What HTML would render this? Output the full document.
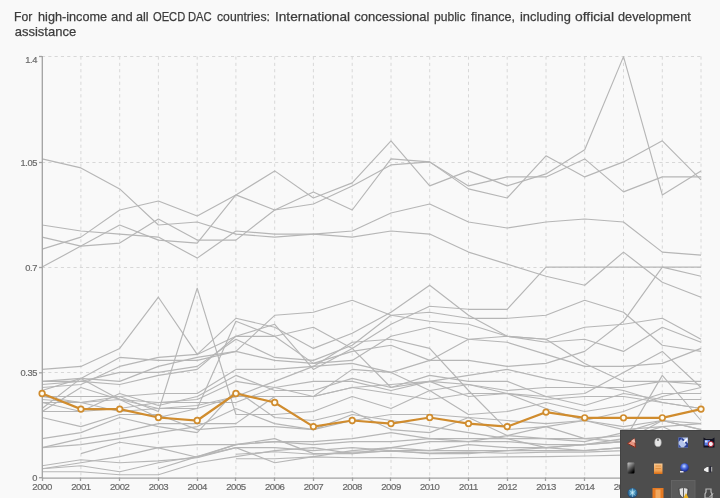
<!DOCTYPE html>
<html><head><meta charset="utf-8"><style>
html,body{margin:0;padding:0;width:720px;height:498px;overflow:hidden;background:#f9f9f9;}
.t{position:absolute;left:0;top:10px;width:720px;height:30px;font:13px/14.6px "Liberation Sans",Arial,sans-serif;color:#3c3c3c;-webkit-text-stroke:0.25px #3c3c3c;}
.t span{position:absolute;top:0;white-space:nowrap;transform-origin:0 0;}
svg{position:absolute;left:0;top:0;}
.tray{position:absolute;left:620px;top:430px;}
</style></head><body>
<div class="t"><span style="left:13.8px;transform:scaleX(0.937)">For</span> <span style="left:37.5px;transform:scaleX(0.976)">high-income</span> <span style="left:110.8px;transform:scaleX(0.995)">and</span> <span style="left:135.8px;transform:scaleX(0.975)">all</span> <span style="left:152.5px;transform:scaleX(0.857)">OECD</span> <span style="left:188.3px;transform:scaleX(0.865)">DAC</span> <span style="left:216.7px;transform:scaleX(0.938)">countries:</span> <span style="left:274.8px;transform:scaleX(1.049)">International</span> <span style="left:354.2px;transform:scaleX(1.000)">concessional</span> <span style="left:434.2px;transform:scaleX(0.929)">public</span> <span style="left:470.8px;transform:scaleX(0.964)">finance,</span> <span style="left:519.5px;transform:scaleX(0.990)">including</span> <span style="left:575.0px;transform:scaleX(1.064)">official</span> <span style="left:617.5px;transform:scaleX(0.977)">development</span> <span style="left:14.7px;top:14.6px">assistance</span></div>
<svg width="720" height="498" viewBox="0 0 720 498">
<g stroke="#d8d8d8" stroke-width="1" stroke-dasharray="3.15,3.15" fill="none">
<line x1="80.9" y1="56.5" x2="80.9" y2="477.5"/>
<line x1="119.7" y1="56.5" x2="119.7" y2="477.5"/>
<line x1="158.4" y1="56.5" x2="158.4" y2="477.5"/>
<line x1="197.2" y1="56.5" x2="197.2" y2="477.5"/>
<line x1="235.9" y1="56.5" x2="235.9" y2="477.5"/>
<line x1="274.7" y1="56.5" x2="274.7" y2="477.5"/>
<line x1="313.4" y1="56.5" x2="313.4" y2="477.5"/>
<line x1="352.2" y1="56.5" x2="352.2" y2="477.5"/>
<line x1="391.0" y1="56.5" x2="391.0" y2="477.5"/>
<line x1="429.7" y1="56.5" x2="429.7" y2="477.5"/>
<line x1="468.5" y1="56.5" x2="468.5" y2="477.5"/>
<line x1="507.2" y1="56.5" x2="507.2" y2="477.5"/>
<line x1="546.0" y1="56.5" x2="546.0" y2="477.5"/>
<line x1="584.7" y1="56.5" x2="584.7" y2="477.5"/>
<line x1="623.5" y1="56.5" x2="623.5" y2="477.5"/>
<line x1="662.3" y1="56.5" x2="662.3" y2="477.5"/>
<line x1="701.0" y1="56.5" x2="701.0" y2="477.5"/>
<line x1="42" y1="372.5" x2="701.5" y2="372.5"/>
<line x1="42" y1="267.5" x2="701.5" y2="267.5"/>
<line x1="42" y1="162.5" x2="701.5" y2="162.5"/>
<line x1="42" y1="56.5" x2="701.5" y2="56.5"/>
</g>
<g stroke="#b6b6b6" stroke-width="1.15" fill="none" stroke-linejoin="round">
<polyline points="42.1,237.1 80.9,246.1 119.7,225.0 158.4,240.1 197.2,243.1 235.9,194.9 274.7,170.9 313.4,198.0 352.2,182.9 391.0,140.8 429.7,185.9 468.5,170.9 507.2,185.9 546.0,173.9 584.7,149.8 623.5,56.6 662.3,194.9 701.0,170.9"/>
<polyline points="42.1,249.1 80.9,237.1 119.7,210.0 158.4,201.0 197.2,216.0 235.9,194.9 274.7,210.0 313.4,191.9 352.2,210.0 391.0,158.9 429.7,161.9 468.5,188.9 507.2,198.0 546.0,155.8 584.7,176.9 623.5,161.9 662.3,140.8 701.0,179.9"/>
<polyline points="42.1,267.1 80.9,246.1 119.7,243.1 158.4,219.0 197.2,240.1 235.9,240.1 274.7,210.0 313.4,204.0 352.2,185.9 391.0,164.9 429.7,161.9 468.5,185.9 507.2,176.9 546.0,176.9 584.7,158.9 623.5,191.9 662.3,176.9 701.0,176.9"/>
<polyline points="42.1,158.9 80.9,167.9 119.7,188.9 158.4,225.0 197.2,222.0 235.9,234.1 274.7,237.1 313.4,234.1 352.2,231.0 391.0,213.0 429.7,204.0 468.5,222.0 507.2,228.0 546.0,222.0 584.7,219.0 623.5,222.0 662.3,252.1 701.0,255.1"/>
<polyline points="42.1,225.0 80.9,231.0 119.7,234.1 158.4,237.1 197.2,258.1 235.9,231.0 274.7,234.1 313.4,234.1 352.2,237.1 391.0,231.0 429.7,234.1 468.5,252.1 507.2,264.1 546.0,276.2 584.7,285.2 623.5,252.1 662.3,282.2 701.0,297.2"/>
<polyline points="42.1,381.4 80.9,381.4 119.7,384.5 158.4,375.4 197.2,369.4 235.9,336.3 274.7,324.3 313.4,369.4 352.2,348.4 391.0,324.3 429.7,306.2 468.5,309.3 507.2,309.3 546.0,267.1 584.7,267.1 623.5,267.1 662.3,267.1 701.0,267.1"/>
<polyline points="42.1,369.4 80.9,366.4 119.7,348.4 158.4,297.2 197.2,354.4 235.9,318.3 274.7,327.3 313.4,348.4 352.2,333.3 391.0,312.3 429.7,285.2 468.5,315.3 507.2,336.3 546.0,342.3 584.7,339.3 623.5,351.4 662.3,327.3 701.0,342.3"/>
<polyline points="42.1,390.5 80.9,378.4 119.7,357.4 158.4,360.4 197.2,360.4 235.9,351.4 274.7,315.3 313.4,312.3 352.2,300.2 391.0,315.3 429.7,321.3 468.5,324.3 507.2,336.3 546.0,339.3 584.7,363.4 623.5,381.4 662.3,381.4 701.0,381.4"/>
<polyline points="42.1,384.5 80.9,381.4 119.7,372.4 158.4,372.4 197.2,366.4 235.9,339.3 274.7,357.4 313.4,360.4 352.2,345.3 391.0,315.3 429.7,312.3 468.5,318.3 507.2,318.3 546.0,315.3 584.7,300.2 623.5,312.3 662.3,345.3 701.0,351.4"/>
<polyline points="42.1,387.5 80.9,384.5 119.7,366.4 158.4,357.4 197.2,354.4 235.9,336.3 274.7,336.3 313.4,363.4 352.2,360.4 391.0,336.3 429.7,327.3 468.5,339.3 507.2,342.3 546.0,354.4 584.7,366.4 623.5,366.4 662.3,363.4 701.0,348.4"/>
<polyline points="42.1,396.5 80.9,396.5 119.7,396.5 158.4,393.5 197.2,393.5 235.9,369.4 274.7,369.4 313.4,366.4 352.2,363.4 391.0,372.4 429.7,360.4 468.5,360.4 507.2,366.4 546.0,363.4 584.7,351.4 623.5,321.3 662.3,267.1 701.0,276.2"/>
<polyline points="42.1,381.4 80.9,378.4 119.7,381.4 158.4,366.4 197.2,357.4 235.9,351.4 274.7,360.4 313.4,363.4 352.2,351.4 391.0,345.3 429.7,360.4 468.5,339.3 507.2,336.3 546.0,339.3 584.7,327.3 623.5,324.3 662.3,318.3 701.0,339.3"/>
<polyline points="42.1,408.5 80.9,378.4 119.7,399.5 158.4,417.5 197.2,408.5 235.9,321.3 274.7,336.3 313.4,327.3 352.2,348.4 391.0,387.5 429.7,381.4 468.5,396.5 507.2,393.5 546.0,396.5 584.7,393.5 623.5,372.4 662.3,351.4 701.0,387.5"/>
<polyline points="42.1,402.5 80.9,411.5 119.7,393.5 158.4,405.5 197.2,396.5 235.9,375.4 274.7,390.5 313.4,390.5 352.2,378.4 391.0,387.5 429.7,375.4 468.5,381.4 507.2,381.4 546.0,396.5 584.7,405.5 623.5,393.5 662.3,399.5 701.0,399.5"/>
<polyline points="42.1,396.5 80.9,402.5 119.7,399.5 158.4,402.5 197.2,402.5 235.9,402.5 274.7,387.5 313.4,381.4 352.2,381.4 391.0,390.5 429.7,381.4 468.5,375.4 507.2,369.4 546.0,378.4 584.7,384.5 623.5,390.5 662.3,402.5 701.0,408.5"/>
<polyline points="42.1,411.5 80.9,387.5 119.7,399.5 158.4,408.5 197.2,405.5 235.9,396.5 274.7,381.4 313.4,366.4 352.2,342.3 391.0,339.3 429.7,348.4 468.5,390.5 507.2,429.6 546.0,426.6 584.7,438.6 623.5,441.6 662.3,375.4 701.0,420.5"/>
<polyline points="42.1,438.6 80.9,432.6 119.7,417.5 158.4,426.6 197.2,432.6 235.9,390.5 274.7,417.5 313.4,420.5 352.2,411.5 391.0,429.6 429.7,432.6 468.5,417.5 507.2,435.6 546.0,426.6 584.7,420.5 623.5,411.5 662.3,396.5 701.0,387.5"/>
<polyline points="42.1,399.5 80.9,402.5 119.7,396.5 158.4,411.5 197.2,288.2 235.9,414.5 274.7,414.5 313.4,411.5 352.2,396.5 391.0,408.5 429.7,390.5 468.5,384.5 507.2,393.5 546.0,408.5 584.7,420.5 623.5,429.6 662.3,426.6 701.0,423.6"/>
<polyline points="42.1,447.6 80.9,444.6 119.7,438.6 158.4,432.6 197.2,426.6 235.9,408.5 274.7,423.6 313.4,429.6 352.2,420.5 391.0,414.5 429.7,414.5 468.5,417.5 507.2,420.5 546.0,423.6 584.7,420.5 623.5,426.6 662.3,420.5 701.0,423.6"/>
<polyline points="42.1,417.5 80.9,426.6 119.7,414.5 158.4,414.5 197.2,429.6 235.9,426.6 274.7,426.6 313.4,429.6 352.2,414.5 391.0,420.5 429.7,426.6 468.5,432.6 507.2,438.6 546.0,447.6 584.7,444.6 623.5,441.6 662.3,420.5 701.0,429.6"/>
<polyline points="42.1,402.5 80.9,402.5 119.7,411.5 158.4,408.5 197.2,408.5 235.9,396.5 274.7,396.5 313.4,396.5 352.2,387.5 391.0,393.5 429.7,399.5 468.5,393.5 507.2,393.5 546.0,399.5 584.7,396.5 623.5,396.5 662.3,402.5 701.0,408.5"/>
<polyline points="42.1,447.6 80.9,438.6 119.7,432.6 158.4,423.6 197.2,423.6 235.9,423.6 274.7,396.5 313.4,396.5 352.2,369.4 391.0,372.4 429.7,390.5 468.5,414.5 507.2,411.5 546.0,402.5 584.7,411.5 623.5,405.5 662.3,393.5 701.0,393.5"/>
<polyline points="42.1,465.7 80.9,459.7 119.7,462.7 158.4,460.9 197.2,457.8 235.9,447.6 274.7,462.7 313.4,456.6 352.2,450.6 391.0,447.6 429.7,441.6 468.5,441.6 507.2,435.6 546.0,438.6 584.7,438.6 623.5,435.6 662.3,435.6 701.0,435.6"/>
<polyline points="42.1,468.7 80.9,462.7 119.7,456.6 158.4,447.6 197.2,444.6 235.9,444.6 274.7,441.6 313.4,444.6 352.2,441.6 391.0,441.6 429.7,438.6 468.5,441.6 507.2,441.6 546.0,444.6 584.7,444.6 623.5,441.6 662.3,435.6 701.0,432.6"/>
<polyline points="42.1,471.7 80.9,471.7 119.7,474.7 158.4,474.7 197.2,462.7 235.9,456.6 274.7,450.6 313.4,447.6 352.2,453.6 391.0,450.6 429.7,453.6 468.5,453.6 507.2,450.6 546.0,447.6 584.7,450.6 623.5,447.6 662.3,432.6 701.0,438.6"/>
<polyline points="42.1,468.7 80.9,465.7 119.7,471.7 158.4,462.7 197.2,456.6 235.9,447.6 274.7,447.6 313.4,450.6 352.2,447.6 391.0,450.6 429.7,450.6 468.5,450.6 507.2,450.6 546.0,450.6 584.7,450.6 623.5,447.6 662.3,441.6 701.0,438.6"/>
<polyline points="80.9,453.6 119.7,442.2 158.4,447.9 197.2,457.2 235.9,444.6 274.7,441.6 313.4,441.6 352.2,438.6 391.0,432.6 429.7,438.6 468.5,438.6 507.2,438.6 546.0,438.6 584.7,441.6 623.5,432.6 662.3,420.5 701.0,429.6"/>
<polyline points="158.4,468.7 197.2,456.6 235.9,444.6 274.7,438.6 313.4,453.6 352.2,453.6 391.0,447.6 429.7,450.6 468.5,444.6 507.2,447.6 546.0,447.6 584.7,444.6 623.5,438.6 662.3,426.6 701.0,444.6"/>
<polyline points="235.9,458.7 274.7,458.7 313.4,456.9 352.2,457.8 391.0,457.5 429.7,458.7 468.5,457.5 507.2,456.9 546.0,456.6 584.7,456.0 623.5,455.1 662.3,453.6 701.0,453.6"/>
<polyline points="235.9,454.2 274.7,451.8 313.4,454.2 352.2,452.1 391.0,451.2 429.7,453.0 468.5,452.1 507.2,453.3 546.0,452.1 584.7,452.1 623.5,450.6 662.3,447.6 701.0,447.6"/>
<polyline points="42.1,411.5 80.9,411.5 119.7,408.5 158.4,402.5 197.2,399.5 235.9,381.4 274.7,387.5 313.4,396.5 352.2,387.5 391.0,384.5 429.7,381.4 468.5,384.5 507.2,390.5 546.0,387.5 584.7,387.5 623.5,387.5 662.3,381.4 701.0,384.5"/>
</g>
<g stroke="#a2a2a2" stroke-width="1.3" fill="none">
<line x1="42.3" y1="56" x2="42.3" y2="478"/>
<line x1="42" y1="478.1" x2="702" y2="478.1"/>
<line x1="39" y1="477.7" x2="42" y2="477.7"/>
<line x1="39" y1="372.8" x2="42" y2="372.8"/>
<line x1="39" y1="267.5" x2="42" y2="267.5"/>
<line x1="39" y1="162.5" x2="42" y2="162.5"/>
<line x1="39" y1="56.5" x2="42" y2="56.5"/>
<line x1="42.5" y1="477.5" x2="42.5" y2="481"/>
<line x1="80.5" y1="477.5" x2="80.5" y2="481"/>
<line x1="119.5" y1="477.5" x2="119.5" y2="481"/>
<line x1="158.5" y1="477.5" x2="158.5" y2="481"/>
<line x1="197.5" y1="477.5" x2="197.5" y2="481"/>
<line x1="235.5" y1="477.5" x2="235.5" y2="481"/>
<line x1="274.5" y1="477.5" x2="274.5" y2="481"/>
<line x1="313.5" y1="477.5" x2="313.5" y2="481"/>
<line x1="352.5" y1="477.5" x2="352.5" y2="481"/>
<line x1="390.5" y1="477.5" x2="390.5" y2="481"/>
<line x1="429.5" y1="477.5" x2="429.5" y2="481"/>
<line x1="468.5" y1="477.5" x2="468.5" y2="481"/>
<line x1="507.5" y1="477.5" x2="507.5" y2="481"/>
<line x1="545.5" y1="477.5" x2="545.5" y2="481"/>
<line x1="584.5" y1="477.5" x2="584.5" y2="481"/>
<line x1="623.5" y1="477.5" x2="623.5" y2="481"/>
<line x1="662.5" y1="477.5" x2="662.5" y2="481"/>
<line x1="701.5" y1="477.5" x2="701.5" y2="481"/>
</g>
<g font-family="Liberation Sans, Arial, sans-serif" font-size="9.3" fill="#6a6a6a" stroke="#6a6a6a" stroke-width="0.2" text-anchor="end" letter-spacing="-0.4">
<text x="37" y="481.2">0</text>
<text x="37" y="376.3">0.35</text>
<text x="37" y="270.9">0.7</text>
<text x="37" y="165.6">1.05</text>
<text x="37" y="63.2">1.4</text>
</g>
<g font-family="Liberation Sans, Arial, sans-serif" font-size="9.6" fill="#6a6a6a" stroke="#6a6a6a" stroke-width="0.2" text-anchor="middle" letter-spacing="-0.45">
<text x="42.1" y="490.3">2000</text>
<text x="80.9" y="490.3">2001</text>
<text x="119.7" y="490.3">2002</text>
<text x="158.4" y="490.3">2003</text>
<text x="197.2" y="490.3">2004</text>
<text x="235.9" y="490.3">2005</text>
<text x="274.7" y="490.3">2006</text>
<text x="313.4" y="490.3">2007</text>
<text x="352.2" y="490.3">2008</text>
<text x="391.0" y="490.3">2009</text>
<text x="429.7" y="490.3">2010</text>
<text x="468.5" y="490.3">2011</text>
<text x="507.2" y="490.3">2012</text>
<text x="546.0" y="490.3">2013</text>
<text x="584.7" y="490.3">2014</text>
<text x="623.5" y="490.3">2015</text>
<text x="662.3" y="490.3">2016</text>
<text x="701.0" y="490.3">2017</text>
</g>
<polyline points="42.1,393.5 80.9,409.1 119.7,409.1 158.4,417.5 197.2,420.5 235.9,393.5 274.7,402.5 313.4,426.6 352.2,420.5 391.0,423.6 429.7,417.5 468.5,423.6 507.2,426.6 546.0,412.1 584.7,417.8 623.5,417.8 662.3,417.8 701.0,409.1" fill="none" stroke="#d08c2e" stroke-width="2.2"/>
<g fill="#fffcf0" stroke="#d08c2e" stroke-width="1.7">
<circle cx="42.1" cy="393.5" r="2.8"/>
<circle cx="80.9" cy="409.1" r="2.8"/>
<circle cx="119.7" cy="409.1" r="2.8"/>
<circle cx="158.4" cy="417.5" r="2.8"/>
<circle cx="197.2" cy="420.5" r="2.8"/>
<circle cx="235.9" cy="393.5" r="2.8"/>
<circle cx="274.7" cy="402.5" r="2.8"/>
<circle cx="313.4" cy="426.6" r="2.8"/>
<circle cx="352.2" cy="420.5" r="2.8"/>
<circle cx="391.0" cy="423.6" r="2.8"/>
<circle cx="429.7" cy="417.5" r="2.8"/>
<circle cx="468.5" cy="423.6" r="2.8"/>
<circle cx="507.2" cy="426.6" r="2.8"/>
<circle cx="546.0" cy="412.1" r="2.8"/>
<circle cx="584.7" cy="417.8" r="2.8"/>
<circle cx="623.5" cy="417.8" r="2.8"/>
<circle cx="662.3" cy="417.8" r="2.8"/>
<circle cx="701.0" cy="409.1" r="2.8"/>
</g>
</svg>
<svg class="tray" width="100" height="68" viewBox="620 430 100 68">
<defs>
<linearGradient id="gph" x1="0" y1="0" x2="0.6" y2="1"><stop offset="0" stop-color="#d0d0d0"/><stop offset="0.5" stop-color="#666"/><stop offset="1" stop-color="#000"/></linearGradient>
<radialGradient id="gbl" cx="0.45" cy="0.35" r="0.6"><stop offset="0" stop-color="#c8dcff"/><stop offset="0.5" stop-color="#4a6ae0"/><stop offset="1" stop-color="#1a2a90"/></radialGradient>
<radialGradient id="gtl" cx="0.5" cy="0.45" r="0.55"><stop offset="0" stop-color="#a8dcec"/><stop offset="0.45" stop-color="#4c98c0"/><stop offset="1" stop-color="#123c6c"/></radialGradient>
<linearGradient id="gor" x1="0" y1="0" x2="0" y2="1"><stop offset="0" stop-color="#f8c890"/><stop offset="0.7" stop-color="#f0a050"/><stop offset="1" stop-color="#d86a10"/></linearGradient>
</defs>
<rect x="620" y="430" width="100" height="68" fill="#4d4d4d"/>
<rect x="620" y="430" width="100" height="1" fill="#424242"/>
<rect x="620" y="430" width="1" height="68" fill="#424242"/>
<!-- highlight cell -->
<rect x="671.5" y="480.5" width="23.5" height="18" fill="#5a5a5a" stroke="#636363" stroke-width="1"/>
<!-- row1: speaker cone -->
<path d="M627.5,443.5 L634.5,438.5 L635.5,447.5 Z" fill="#e89480" stroke="#8a2c1c" stroke-width="1"/>
<path d="M631,441 L634.5,438.5 L635.3,443 Z" fill="#f4c0b0"/>
<!-- mouse -->
<ellipse cx="658" cy="442.5" rx="3.3" ry="4.2" fill="#e6e6e6" stroke="#9a9a9a" stroke-width="0.6"/>
<ellipse cx="658" cy="440" rx="0.9" ry="1" fill="#555"/>
<!-- blue X -->
<rect x="678.5" y="437.5" width="9.5" height="10" fill="#b4c4ec"/>
<path d="M678.5,437.5 L682.5,437.5 L678.5,442 Z" fill="#2a3f94"/>
<path d="M688,447.5 L683.5,447.5 L688,443 Z" fill="#2a3f94"/>
<path d="M678.5,444 L681.5,447.5 L678.5,447.5 Z" fill="#3a52a8"/>
<path d="M681,439 L687,445 L688,443.5 L682.5,438 Z" fill="#2a3f94"/>
<path d="M683,441.5 L686.5,438.2 L687.5,439.5 L684.5,443 Z" fill="#ffffff"/>
<!-- clock icon -->
<path d="M703.5,437.5 L706,439 L712,439 L714.5,437.5 L714.5,447.5 L703.5,447.5 Z" fill="#101020"/>
<rect x="704.5" y="440" width="5.5" height="5.5" fill="#5a7ee8"/>
<rect x="705" y="440.5" width="2.5" height="2" fill="#d8e0ff"/>
<circle cx="710.8" cy="444" r="2.6" fill="#f4eef4" stroke="#b01828" stroke-width="1"/>
<!-- row2: phone -->
<rect x="627.5" y="462.5" width="7" height="11" rx="1" fill="url(#gph)"/>
<!-- clipboard -->
<rect x="654" y="463.5" width="8.5" height="10.5" fill="url(#gor)"/>
<rect x="655.5" y="465.5" width="5.5" height="1" fill="#e09040"/>
<rect x="655.5" y="468" width="5.5" height="1" fill="#e09040"/>
<!-- blue globe person -->
<circle cx="684.5" cy="467.5" r="4.3" fill="url(#gbl)"/>
<rect x="680" y="471" width="3.5" height="1.5" fill="#e0e0f0"/>
<!-- speaker white -->
<path d="M704,469 L707,467 L708.5,467 L708.5,472 L707,472 L704,470.5 Z" fill="#f0f0f0"/>
<rect x="709.5" y="466" width="1.6" height="6.5" fill="#2a2a3a"/>
<rect x="711.2" y="467" width="1" height="4.5" fill="#bbbbbb"/>
<!-- row3: teal globe -->
<circle cx="632.5" cy="493" r="5" fill="url(#gtl)"/>
<path d="M629.5,490.5 L635.5,495.5 M629.5,495 L635.5,490.5 M632.5,488.5 L632.5,497" stroke="#dff4ff" stroke-width="0.7" opacity="0.6"/>
<!-- orange square -->
<rect x="652.5" y="488" width="11" height="10" fill="#e77a22"/>
<rect x="655.5" y="489.5" width="5" height="8.5" fill="#f0a860"/>
<!-- shield -->
<path d="M679,488.5 Q683.5,486.5 688,488.5 L687.5,494 Q685,497.5 683.5,498 Q681,497 679.5,494 Z" fill="#e0e0e0" stroke="#202020" stroke-width="0.6"/>
<rect x="683" y="488" width="1" height="10" fill="#606060"/>
<path d="M683.5,498 L686,493 L688.5,498 Z" fill="#e8b020"/>
<!-- usb -->
<path d="M706,489 L711,489 L711,492 L712,494 L712,498 L705,498 L705,494 L706,492 Z" fill="none" stroke="#b8b8b8" stroke-width="1.2"/>
<path d="M709.5,497 L713,493.5" stroke="#d0d0d0" stroke-width="1"/>
</svg>

</body></html>
